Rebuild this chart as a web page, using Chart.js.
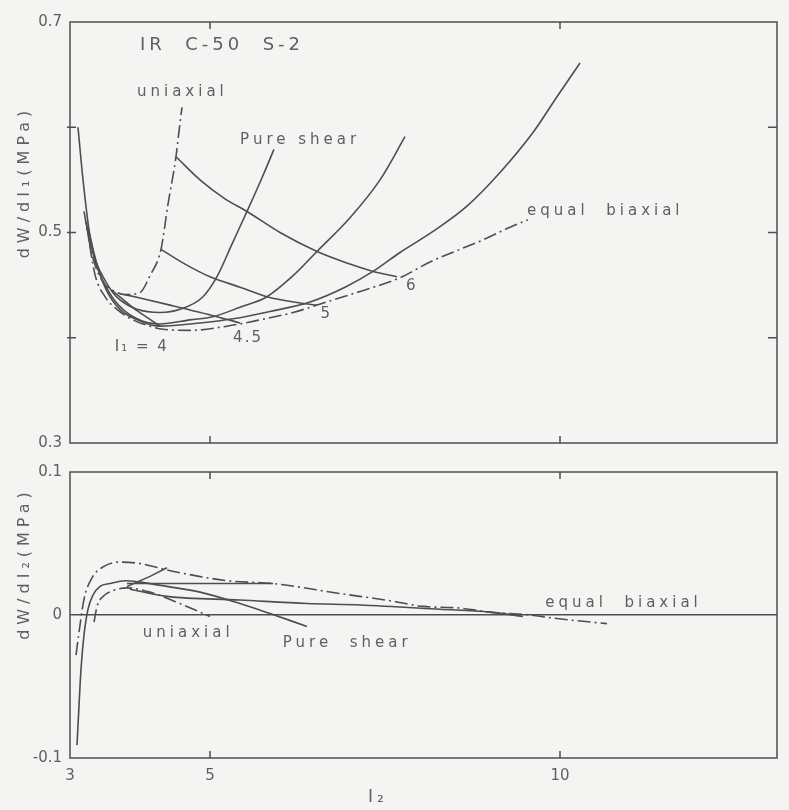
<!DOCTYPE html>
<html>
<head>
<meta charset="utf-8">
<script src="https://cdn.jsdelivr.net/npm/chart.js@4/dist/chart.umd.min.js"></script>
<style>
  body { margin: 0; background: #f4f4f2; }
  .panel { position: absolute; left: 0; width: 789px; }
  #top-panel { top: 0; height: 460px; }
  #bottom-panel { top: 450px; height: 360px; }
</style>
</head>
<body>
<div class="panel" id="top-panel"><canvas id="chartW1"></canvas></div>
<div class="panel" id="bottom-panel"><canvas id="chartW2"></canvas></div>
<script>
// ---- dW/dI1 vs I2 (upper panel) ----
const uniaxialI2 = [3.200, 3.314, 3.471, 3.643, 3.786, 4.000, 4.143, 4.300, 4.400, 4.514, 4.557, 4.600];
const uniaxialW1 = [0.520, 0.479, 0.453, 0.444, 0.441, 0.443, 0.459, 0.484, 0.527, 0.572, 0.596, 0.619];

const pureShearI2 = [3.114, 3.186, 3.286, 3.386, 3.471, 3.600, 3.714, 3.957, 4.286, 4.571, 4.900, 5.100, 5.314, 5.529, 5.743, 5.914];
const pureShearW1 = [0.600, 0.550, 0.496, 0.470, 0.458, 0.444, 0.436, 0.427, 0.424, 0.427, 0.439, 0.458, 0.489, 0.520, 0.552, 0.579];

const biaxialI2 = [3.229, 3.357, 3.500, 3.671, 3.929, 4.143, 4.329, 4.714, 5.243, 5.714, 6.186, 6.714, 7.143, 7.714, 8.143, 8.571, 8.900, 9.286, 9.543];
const biaxialW1 = [0.510, 0.460, 0.439, 0.427, 0.416, 0.411, 0.408, 0.407, 0.411, 0.417, 0.424, 0.435, 0.444, 0.457, 0.472, 0.484, 0.493, 0.505, 0.512];

const midPathAI2 = [3.229, 3.357, 3.471, 3.643, 3.929, 4.286, 4.714, 5.043, 5.429, 5.814, 6.171, 6.529, 7.000, 7.429, 7.786];
const midPathAW1 = [0.510, 0.473, 0.454, 0.435, 0.419, 0.413, 0.417, 0.420, 0.429, 0.439, 0.458, 0.482, 0.514, 0.550, 0.591];

const midPathBI2 = [3.257, 3.386, 3.514, 3.714, 4.000, 4.286, 4.857, 5.329, 5.857, 6.429, 6.929, 7.329, 7.714, 8.186, 8.671, 9.143, 9.614, 9.957, 10.286];
const midPathBW1 = [0.505, 0.469, 0.446, 0.427, 0.416, 0.411, 0.414, 0.418, 0.425, 0.434, 0.448, 0.463, 0.481, 0.501, 0.525, 0.557, 0.595, 0.629, 0.661];

// constant I1 lines
const i1Is4I2 = [3.600, 3.929, 4.286];
const i1Is4W1 = [0.445, 0.427, 0.411];
const i1Is45I2 = [3.786, 4.429, 5.100, 5.429];
const i1Is45W1 = [0.441, 0.431, 0.420, 0.414];
const i1Is5I2 = [4.300, 4.643, 5.000, 5.429, 5.814, 6.286, 6.529];
const i1Is5W1 = [0.484, 0.470, 0.458, 0.448, 0.439, 0.433, 0.431];
const i1Is6I2 = [4.514, 4.857, 5.214, 5.529, 6.000, 6.529, 7.000, 7.329, 7.671];
const i1Is6W1 = [0.572, 0.550, 0.532, 0.520, 0.500, 0.482, 0.470, 0.463, 0.458];

// ---- dW/dI2 vs I2 (lower panel) ----
const uniaxial2I2 = [3.343, 3.386, 3.471, 3.614, 3.814, 4.143, 4.571, 5.000];
const uniaxial2W2 = [-0.005, 0.006, 0.013, 0.017, 0.019, 0.016, 0.008, -0.001];

const pureShear2I2 = [3.100, 3.129, 3.157, 3.200, 3.257, 3.329, 3.429, 3.571, 3.786, 4.000, 4.386, 4.857, 5.429, 5.857, 6.386];
const pureShear2W2 = [-0.091, -0.063, -0.038, -0.014, 0.004, 0.014, 0.020, 0.022, 0.024, 0.023, 0.020, 0.016, 0.008, 0.001, -0.008];

const biaxial2I2 = [3.086, 3.129, 3.200, 3.314, 3.486, 3.714, 4.000, 4.429, 5.243, 5.900, 6.857, 7.571, 8.043, 8.529, 9.000, 9.571, 10.043, 10.671];
const biaxial2W2 = [-0.028, -0.012, 0.011, 0.026, 0.034, 0.037, 0.036, 0.031, 0.024, 0.022, 0.015, 0.010, 0.006, 0.005, 0.002, 0.000, -0.003, -0.006];

const midPathB2I2 = [3.857, 4.386, 5.429, 6.386, 7.143, 8.286, 9.000, 9.471];
const midPathB2W2 = [0.018, 0.013, 0.0105, 0.008, 0.007, 0.004, 0.002, -0.001];

const crossA2I2 = [3.814, 4.143, 4.386];
const crossA2W2 = [0.020, 0.027, 0.033];
const crossB2I2 = [3.814, 4.571, 5.286, 5.900];
const crossB2W2 = [0.022, 0.022, 0.022, 0.022];

// axes
const xMin = 3;
const xMax = 13.1;
const xTickLabels = [3, 5, 10];
const xTickMarks = [5, 10];
const w1TickMarks = [0.4, 0.5, 0.6];

const INK = "#4e4e4e";
const TEXT = "#5f5f5f";
const FONT = "'DejaVu Sans', sans-serif";
const DASH_DOT = [13, 4, 2, 4];

Chart.defaults.font.family = FONT;
Chart.defaults.color = TEXT;

function toPoints(xs, ys) {
    return xs.map((x, i) => ({ x: x, y: ys[i] }));
}

function curve(xs, ys, dashed, smooth) {
    return {
        data: toPoints(xs, ys),
        borderColor: INK,
        borderWidth: 1.6,
        borderDash: dashed ? DASH_DOT : [],
        pointRadius: 0,
        fill: false,
        cubicInterpolationMode: smooth ? "monotone" : "default",
        tension: 0,
    };
}

// frame, inner tick marks and text labels
const framePlugin = {
    id: "frame",
    afterDraw(chart, args, opts) {
        const { ctx, chartArea: a, scales } = chart;
        ctx.save();
        ctx.strokeStyle = INK;
        ctx.lineWidth = 1.5;
        ctx.strokeRect(a.left, a.top, a.right - a.left, a.bottom - a.top);

        ctx.beginPath();
        (opts.xMarks || []).forEach((v) => {
            const px = scales.x.getPixelForValue(v);
            ctx.moveTo(px, a.top);
            ctx.lineTo(px, a.top + 7);
            ctx.moveTo(px, a.bottom);
            ctx.lineTo(px, a.bottom - 7);
        });
        (opts.yMarks || []).forEach((v) => {
            const py = scales.y.getPixelForValue(v);
            ctx.moveTo(a.left - 3, py);
            ctx.lineTo(a.left + 6, py);
            ctx.moveTo(a.right, py);
            ctx.lineTo(a.right - 9, py);
        });
        ctx.stroke();

        ctx.fillStyle = TEXT;
        ctx.textBaseline = "middle";
        ctx.textAlign = "left";
        (opts.labels || []).forEach((l) => {
            ctx.font = l.font || "15px " + FONT;
            ctx.letterSpacing = l.spacing || "4px";
            ctx.fillText(
                l.text,
                scales.x.getPixelForValue(l.x),
                scales.y.getPixelForValue(l.y)
            );
        });

        // rotated y title
        if (opts.yTitle) {
            ctx.save();
            ctx.font = "16px " + FONT;
            ctx.letterSpacing = "5px";
            ctx.textAlign = "center";
            ctx.translate(25, a.top + (a.bottom - a.top) * opts.yTitle.at);
            ctx.rotate(-Math.PI / 2);
            ctx.fillText(opts.yTitle.text, 0, 0);
            ctx.restore();
        }
        // x title
        if (opts.xTitle) {
            ctx.font = "17px " + FONT;
            ctx.textAlign = "center";
            ctx.fillText(
                opts.xTitle.text,
                scales.x.getPixelForValue(opts.xTitle.x),
                a.bottom + 40
            );
        }
        ctx.restore();
    },
};

function baseOptions() {
    return {
        responsive: true,
        maintainAspectRatio: false,
        animation: false,
        events: [],
        parsing: false,
        plugins: { legend: { display: false }, tooltip: { enabled: false } },
    };
}

// Upper panel
const topOptions = baseOptions();
topOptions.layout = { padding: { left: 0, right: 12, top: 22, bottom: 16 } };
topOptions.scales = {
    x: { type: "linear", min: xMin, max: xMax, display: false },
    y: {
        type: "linear",
        min: 0.3,
        max: 0.7,
        grid: { display: false, drawTicks: false },
        border: { display: false },
        ticks: {
            stepSize: 0.1,
            padding: 8,
            font: { size: 15 },
            callback: function (value) {
                const k = Math.round(value * 10);
                return k % 2 === 1 ? (k / 10).toFixed(1) : "";
            },
        },
        afterFit: function (scale) {
            scale.width = 70;
        },
    },
};
topOptions.plugins.frame = {
    xMarks: xTickMarks,
    yMarks: w1TickMarks,
    yTitle: { text: "dW/dI\u2081(MPa)", at: 0.38 },
    labels: [
        { text: "IR  C-50  S-2", x: 4.0, y: 0.678, font: "18px " + FONT, spacing: "4px" },
        { text: "uniaxial", x: 3.957, y: 0.633 },
        { text: "Pure shear", x: 5.43, y: 0.588 },
        { text: "equal  biaxial", x: 9.53, y: 0.52 },
        { text: "6", x: 7.8, y: 0.449, spacing: "0px" },
        { text: "5", x: 6.58, y: 0.422, spacing: "0px" },
        { text: "4.5", x: 5.33, y: 0.4, spacing: "2px" },
        { text: "I\u2081 = 4", x: 3.64, y: 0.391, spacing: "2px" },
    ],
};

new Chart(document.getElementById("chartW1"), {
    type: "line",
    data: {
        datasets: [
            curve(uniaxialI2, uniaxialW1, true, true),
            curve(biaxialI2, biaxialW1, true, true),
            curve(pureShearI2, pureShearW1, false, true),
            curve(midPathAI2, midPathAW1, false, true),
            curve(midPathBI2, midPathBW1, false, true),
            curve(i1Is4I2, i1Is4W1, false, false),
            curve(i1Is45I2, i1Is45W1, false, true),
            curve(i1Is5I2, i1Is5W1, false, true),
            curve(i1Is6I2, i1Is6W1, false, true),
        ],
    },
    options: topOptions,
    plugins: [framePlugin],
});

// Lower panel
const bottomOptions = baseOptions();
bottomOptions.layout = { padding: { left: 0, right: 12, top: 22, bottom: 0 } };
bottomOptions.scales = {
    x: {
        type: "linear",
        min: xMin,
        max: xMax,
        grid: { display: false, drawTicks: false },
        border: { display: false },
        ticks: { padding: 9, font: { size: 15 } },
        afterBuildTicks: function (scale) {
            scale.ticks = xTickLabels.map((v) => ({ value: v }));
        },
        afterFit: function (scale) {
            scale.height = 52;
        },
    },
    y: {
        type: "linear",
        min: -0.1,
        max: 0.1,
        grid: {
            drawTicks: false,
            lineWidth: 1.5,
            color: (c) => (c.tick && Math.abs(c.tick.value) < 1e-9 ? INK : "rgba(0,0,0,0)"),
        },
        border: { display: false },
        ticks: {
            stepSize: 0.1,
            padding: 8,
            font: { size: 15 },
            callback: function (value) {
                return Math.abs(value) < 1e-9 ? "0" : value.toFixed(1);
            },
        },
        afterFit: function (scale) {
            scale.width = 70;
        },
    },
};
bottomOptions.plugins.frame = {
    xMarks: xTickMarks,
    yMarks: [],
    yTitle: { text: "dW/dI\u2082(MPa)", at: 0.32 },
    xTitle: { text: "I\u2082", x: 7.4 },
    labels: [
        { text: "uniaxial", x: 4.04, y: -0.0126 },
        { text: "Pure  shear", x: 6.04, y: -0.0196 },
        { text: "equal  biaxial", x: 9.79, y: 0.0084 },
    ],
};

new Chart(document.getElementById("chartW2"), {
    type: "line",
    data: {
        datasets: [
            curve(uniaxial2I2, uniaxial2W2, true, true),
            curve(biaxial2I2, biaxial2W2, true, true),
            curve(pureShear2I2, pureShear2W2, false, true),
            curve(midPathB2I2, midPathB2W2, false, true),
            curve(crossA2I2, crossA2W2, false, false),
            curve(crossB2I2, crossB2W2, false, true),
        ],
    },
    options: bottomOptions,
    plugins: [framePlugin],
});
</script>
</body>
</html>
